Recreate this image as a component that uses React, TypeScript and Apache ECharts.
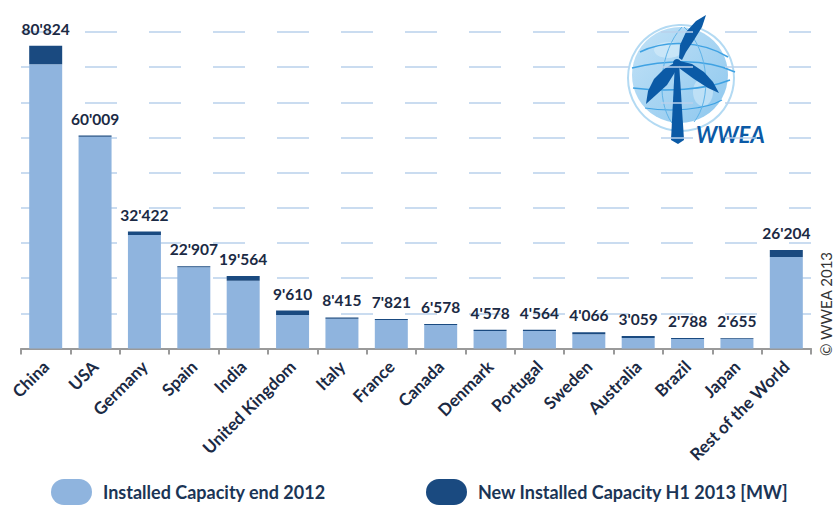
import React, { useEffect, useRef } from "react";
import * as echarts from "echarts";

const categories = [
  "China", "USA", "Germany", "Spain", "India", "United Kingdom", "Italy", "France",
  "Canada", "Denmark", "Portugal", "Sweden", "Australia", "Brazil", "Japan", "Rest of the World",
];
// bar heights as drawn (MW)
const capacityEnd2012 = [80800, 60200, 32300, 23100, 19300, 9500, 8450, 8100, 6700, 5000, 5000, 4050, 3000, 2700, 2700, 26000];
const newH1_2013 = [5300, 350, 950, 300, 1350, 1300, 400, 300, 300, 300, 300, 550, 550, 300, 250, 2000];
// printed totals
const totalLabels = [80824, 60009, 32422, 22907, 19564, 9610, 8415, 7821, 6578, 4578, 4564, 4066, 3059, 2788, 2655, 26204];
const yTicks = { min: 0, max: 90000, interval: 10000 };

const seriesNames = ["Installed Capacity end 2012", "New Installed Capacity H1 2013 [MW]"];

const fmt = (v: number) => {
  const s = String(v);
  return s.length > 3 ? s.slice(0, s.length - 3) + "'" + s.slice(s.length - 3) : s;
};

const FONT = "Lato";
const LIGHT = "#8fb4de";
const DARK = "#1a4a80";
const TEXT = "#1b2a44";
const LOGO = "#0b5aa6";

const stadium = "path://M13,0 L28,0 A13,13 0 0 1 28,26 L13,26 A13,13 0 0 1 13,0 Z";

export default function App() {
  const ref = useRef<HTMLDivElement>(null);
  useEffect(() => {
    if (!ref.current) return;
    const chart = echarts.init(ref.current, undefined, { renderer: "svg" });
    const legendBase = {
      top: 479,
      padding: 0,
      itemWidth: 41,
      itemHeight: 26,
      icon: stadium,
      selectedMode: false,
      textStyle: { fontSize: 18, fontWeight: "bold", color: "#1b3556", fontFamily: FONT, padding: [0, 0, 0, 6] },
    };
    chart.setOption({
      animation: false,
      backgroundColor: "#ffffff",
      textStyle: { fontFamily: FONT },
      grid: { left: 21, right: 29, top: 32, bottom: 157.5, outerBoundsMode: "none", containLabel: false },
      legend: [
        { ...legendBase, left: 51, data: [seriesNames[0]] },
        { ...legendBase, left: 426, data: [seriesNames[1]] },
      ],
      xAxis: {
        type: "category",
        data: categories,
        axisLine: { lineStyle: { color: "#9a9a9a", width: 2 } },
        axisTick: { show: true, length: 6, lineStyle: { color: "#9a9a9a", width: 2 } },
        axisLabel: {
          interval: 0,
          rotate: 45,
          margin: 15,
          fontSize: 17,
          fontWeight: "bold",
          color: TEXT,
          fontFamily: FONT,
        },
      },
      yAxis: {
        type: "value",
        min: yTicks.min,
        max: yTicks.max,
        interval: yTicks.interval,
        axisLabel: { show: false },
        axisLine: { show: false },
        axisTick: { show: false },
        splitLine: { lineStyle: { color: "#b9d1ec", width: 1.5, type: [32, 32] } },
      },
      series: [
        {
          name: seriesNames[0],
          type: "bar",
          stack: "cap",
          barWidth: 33,
          data: capacityEnd2012,
          itemStyle: { color: LIGHT },
        },
        {
          name: seriesNames[1],
          type: "bar",
          stack: "cap",
          barWidth: 33,
          data: newH1_2013,
          itemStyle: { color: DARK },
          label: {
            show: true,
            position: "top",
            distance: 9,
            fontSize: 15.5,
            fontWeight: "bold",
            color: TEXT,
            fontFamily: FONT,
            formatter: (p: any) => fmt(totalLabels[p.dataIndex]),
          },
        },
      ],
      graphic: [
        {
          type: "text",
          x: 826,
          y: 304,
          rotation: Math.PI / 2,
          style: {
            text: "© WWEA 2013",
            fontSize: 15,
            fontFamily: FONT,
            fill: "#333333",
            align: "center",
            verticalAlign: "middle",
          },
        },
        {
          type: "group",
          children: [
            { type: "circle", shape: { cx: 681, cy: 78, r: 53 }, style: { fill: "none", stroke: "#b3daf3", lineWidth: 2 } },
            {
              type: "circle",
              shape: { cx: 680, cy: 75, r: 48 },
              style: {
                fill: new echarts.graphic.LinearGradient(0, 0, 1, 1, [
                  { offset: 0, color: "#c2e2f7" },
                  { offset: 1, color: "#8dc7ee" },
                ]),
              },
            },
            { type: "ellipse", shape: { cx: 668, cy: 50, rx: 14, ry: 8 }, style: { fill: "#d3ebfa", opacity: 0.7 } },
            { type: "ellipse", shape: { cx: 703, cy: 92, rx: 10, ry: 14 }, style: { fill: "#d3ebfa", opacity: 0.6 } },
            { type: "bezierCurve", shape: { x1: 640, y1: 52, cpx1: 665, cpy1: 40, cpx2: 700, cpy2: 40, x2: 728, y2: 57 }, style: { stroke: "#3fa2e3", lineWidth: 1.5, fill: "none" } },
            { type: "bezierCurve", shape: { x1: 632, y1: 68, cpx1: 665, cpy1: 60, cpx2: 705, cpy2: 58, x2: 735, y2: 72 }, style: { stroke: "#3fa2e3", lineWidth: 1.5, fill: "none" } },
            { type: "bezierCurve", shape: { x1: 633, y1: 88, cpx1: 665, cpy1: 92, cpx2: 705, cpy2: 90, x2: 730, y2: 80 }, style: { stroke: "#3fa2e3", lineWidth: 1.5, fill: "none" } },
            { type: "bezierCurve", shape: { x1: 645, y1: 108, cpx1: 670, cpy1: 112, cpx2: 705, cpy2: 110, x2: 722, y2: 100 }, style: { stroke: "#3fa2e3", lineWidth: 1.2, fill: "none" } },
            { type: "bezierCurve", shape: { x1: 682, y1: 27, cpx1: 660, cpy1: 50, cpx2: 655, cpy2: 100, x2: 672, y2: 123 }, style: { stroke: "#5fb3e8", lineWidth: 1, fill: "none" } },
            { type: "bezierCurve", shape: { x1: 684, y1: 27, cpx1: 710, cpy1: 50, cpx2: 712, cpy2: 100, x2: 694, y2: 122 }, style: { stroke: "#5fb3e8", lineWidth: 1, fill: "none" } },
            { type: "polygon", shape: { points: [[675, 62], [679, 62], [684, 140], [678, 144], [671, 140]] }, style: { fill: LOGO } },
            { type: "polygon", shape: { points: [[679, 58], [680, 45], [686, 32], [696, 21], [706, 15], [702, 27], [694, 40], [686, 52], [682, 60]] }, style: { fill: LOGO } },
            { type: "polygon", shape: { points: [[676, 62], [664, 69], [654, 79], [648, 91], [646, 104], [656, 95], [667, 85], [677, 69]] }, style: { fill: LOGO } },
            { type: "polygon", shape: { points: [[680, 61], [692, 64], [704, 72], [713, 82], [719, 93], [708, 88], [694, 79], [679, 68]] }, style: { fill: LOGO } },
            { type: "circle", shape: { cx: 677, cy: 63, r: 4 }, style: { fill: LOGO } },
            {
              type: "text",
              x: 696,
              y: 134,
              style: {
                text: "WWEA",
                fontSize: 22,
                fontWeight: "bold",
                fontStyle: "italic",
                fontFamily: FONT,
                fill: LOGO,
                align: "left",
                verticalAlign: "middle",
              },
            },
          ],
        },
      ],
    });
    return () => chart.dispose();
  }, []);
  return <div ref={ref} style={{ width: 840, height: 506, position: "absolute", left: 0, top: 0 }} />;
}
